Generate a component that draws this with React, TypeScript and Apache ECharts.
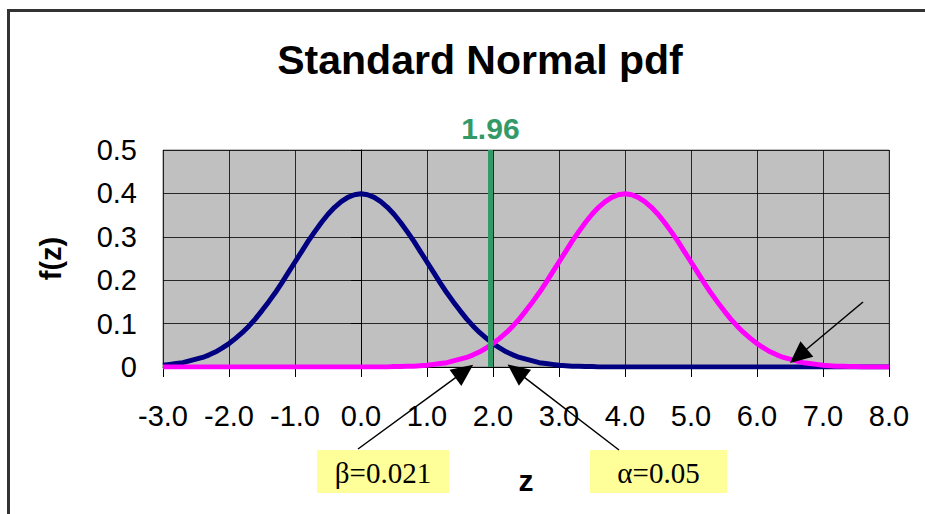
import React, { useEffect, useRef } from "react";
import * as echarts from "echarts";

// x positions (z), step 0.1 from -3.0 to 8.0
const zValues: number[] = [
  -3.0, -2.9, -2.8, -2.7, -2.6, -2.5, -2.4, -2.3, -2.2, -2.1,
  -2.0, -1.9, -1.8, -1.7, -1.6, -1.5, -1.4, -1.3, -1.2, -1.1,
  -1.0, -0.9, -0.8, -0.7, -0.6, -0.5, -0.4, -0.3, -0.2, -0.1,
  0.0, 0.1, 0.2, 0.3, 0.4, 0.5, 0.6, 0.7, 0.8, 0.9,
  1.0, 1.1, 1.2, 1.3, 1.4, 1.5, 1.6, 1.7, 1.8, 1.9,
  2.0, 2.1, 2.2, 2.3, 2.4, 2.5, 2.6, 2.7, 2.8, 2.9,
  3.0, 3.1, 3.2, 3.3, 3.4, 3.5, 3.6, 3.7, 3.8, 3.9,
  4.0, 4.1, 4.2, 4.3, 4.4, 4.5, 4.6, 4.7, 4.8, 4.9,
  5.0, 5.1, 5.2, 5.3, 5.4, 5.5, 5.6, 5.7, 5.8, 5.9,
  6.0, 6.1, 6.2, 6.3, 6.4, 6.5, 6.6, 6.7, 6.8, 6.9,
  7.0, 7.1, 7.2, 7.3, 7.4, 7.5, 7.6, 7.7, 7.8, 7.9,
  8.0,
];

// f(z) under H0 (mean 0), navy curve
const navyValues: number[] = [
  0.004, 0.006, 0.008, 0.010, 0.014, 0.018, 0.022, 0.028, 0.035, 0.044,
  0.054, 0.066, 0.079, 0.094, 0.111, 0.130, 0.150, 0.171, 0.194, 0.218,
  0.242, 0.266, 0.290, 0.312, 0.333, 0.352, 0.368, 0.381, 0.391, 0.397,
  0.399, 0.397, 0.391, 0.381, 0.368, 0.352, 0.333, 0.312, 0.290, 0.266,
  0.242, 0.218, 0.194, 0.171, 0.150, 0.130, 0.111, 0.094, 0.079, 0.066,
  0.054, 0.044, 0.035, 0.028, 0.022, 0.018, 0.014, 0.010, 0.008, 0.006,
  0.004, 0.003, 0.002, 0.002, 0.001, 0.001, 0, 0, 0, 0,
  0, 0, 0, 0, 0, 0, 0, 0, 0, 0,
  0, 0, 0, 0, 0, 0, 0, 0, 0, 0,
  0, 0, 0, 0, 0, 0, 0, 0, 0, 0,
  0, 0, 0, 0, 0, 0, 0, 0, 0, 0,
  0,
];

// f(z) under H1 (mean 4), magenta curve
const magentaValues: number[] = [
  0, 0, 0, 0, 0, 0, 0, 0, 0, 0,
  0, 0, 0, 0, 0, 0, 0, 0, 0, 0,
  0, 0, 0, 0, 0, 0, 0, 0, 0, 0,
  0, 0, 0, 0, 0, 0.001, 0.001, 0.002, 0.002, 0.003,
  0.004, 0.006, 0.008, 0.010, 0.014, 0.018, 0.022, 0.028, 0.035, 0.044,
  0.054, 0.066, 0.079, 0.094, 0.111, 0.130, 0.150, 0.171, 0.194, 0.218,
  0.242, 0.266, 0.290, 0.312, 0.333, 0.352, 0.368, 0.381, 0.391, 0.397,
  0.399, 0.397, 0.391, 0.381, 0.368, 0.352, 0.333, 0.312, 0.290, 0.266,
  0.242, 0.218, 0.194, 0.171, 0.150, 0.130, 0.111, 0.094, 0.079, 0.066,
  0.054, 0.044, 0.035, 0.028, 0.022, 0.018, 0.014, 0.010, 0.008, 0.006,
  0.004, 0.003, 0.002, 0.002, 0.001, 0.001, 0, 0, 0, 0,
  0,
];

const criticalValue = 1.96;
const criticalLabel = "1.96";

// annotation labels and the data points their arrows point to
const annotationTexts: string[] = ["β=0.021", "α=0.05"];
const annotationTips: number[][] = [
  [1.7, 0.005],
  [2.22, 0.006],
];
const extraArrowTip: number[] = [6.5, 0.009];

const FONT = "'Liberation Sans', Arial, sans-serif";
const SERIF = "'Liberation Serif', 'Times New Roman', serif";

function arrowHead(tip: number[], tail: number[], len: number, half: number) {
  const dx = tip[0] - tail[0];
  const dy = tip[1] - tail[1];
  const d = Math.sqrt(dx * dx + dy * dy);
  const ux = dx / d;
  const uy = dy / d;
  const bx = tip[0] - ux * len;
  const by = tip[1] - uy * len;
  return [
    [tip[0], tip[1]],
    [bx - uy * half, by + ux * half],
    [bx + uy * half, by - ux * half],
  ];
}

export default function App() {
  const ref = useRef<HTMLDivElement>(null);

  useEffect(() => {
    document.body.style.margin = "0";
    if (!ref.current) return;
    const chart = echarts.init(ref.current, undefined, { renderer: "svg" });

    const navyData = zValues.map((z, i) => [z, navyValues[i]]);
    const magentaData = zValues.map((z, i) => [z, magentaValues[i]]);

    const option: any = {
      animation: false,
      backgroundColor: "#ffffff",
      title: {
        text: "Standard Normal pdf",
        left: 475,
        top: 34,
        textAlign: "center",
        textStyle: {
          fontFamily: FONT,
          fontWeight: "bold",
          fontSize: 41,
          color: "#000000",
        },
      },
      grid: {
        left: 163,
        top: 150,
        width: 726,
        height: 217,
        show: true,
        backgroundColor: "#c0c0c0",
        borderColor: "#808080",
        borderWidth: 1,
      },
      xAxis: {
        type: "value",
        min: -3,
        max: 8,
        interval: 1,
        name: "z",
        nameLocation: "middle",
        nameGap: 98,
        nameTextStyle: {
          fontFamily: FONT,
          fontWeight: "bold",
          fontSize: 30,
          color: "#000",
        },
        axisLine: { show: true, onZero: false, lineStyle: { color: "#000", width: 1 } },
        axisTick: { show: true, length: 10, lineStyle: { color: "#000", width: 1 } },
        axisLabel: {
          fontFamily: FONT,
          fontSize: 29,
          color: "#000",
          margin: 34,
          formatter: (v: number) => v.toFixed(1),
        },
        splitLine: { show: true, lineStyle: { color: "#000", width: 1, opacity: 0.8 } },
      },
      yAxis: {
        type: "value",
        min: 0,
        max: 0.5,
        interval: 0.1,
        name: "f(z)",
        nameLocation: "middle",
        nameGap: 98,
        nameRotate: 90,
        nameTextStyle: {
          fontFamily: FONT,
          fontWeight: "bold",
          fontSize: 29,
          color: "#000",
        },
        axisLine: { show: true, lineStyle: { color: "#000", width: 1 } },
        axisTick: { show: true, length: 10, lineStyle: { color: "#000", width: 1 } },
        axisLabel: {
          fontFamily: FONT,
          fontSize: 29,
          color: "#000",
          margin: 26,
          formatter: (v: number) => (v === 0 ? "0" : v.toFixed(1)),
        },
        splitLine: { show: true, lineStyle: { color: "#000", width: 1, opacity: 0.8 } },
      },
      series: [
        {
          name: "H0",
          type: "line",
          data: navyData,
          showSymbol: false,
          symbol: "none",
          lineStyle: { color: "#000080", width: 5 },
          z: 2,
        },
        {
          name: "H1",
          type: "line",
          data: magentaData,
          showSymbol: false,
          symbol: "none",
          lineStyle: { color: "#ff00ff", width: 5 },
          z: 3,
          markLine: {
            silent: true,
            symbol: ["none", "none"],
            lineStyle: { color: "#339966", width: 5, type: "solid" },
            label: {
              show: true,
              position: "end",
              formatter: criticalLabel,
              fontFamily: FONT,
              fontWeight: "bold",
              fontSize: 30,
              color: "#339966",
              distance: 7,
            },
            data: [{ xAxis: criticalValue }],
          },
        },
      ],
    };

    chart.setOption(option);

    // annotation graphics: frame, yellow boxes, arrows
    const boxes = [
      { x: 317, y: 450, w: 132, h: 43, tail: [358, 449] },
      { x: 590, y: 450, w: 137, h: 43, tail: [619, 450] },
    ];
    const graphics: any[] = [
      {
        type: "polyline",
        shape: { points: [[8.5, 514], [8.5, 10.5], [925, 10.5]] },
        style: { stroke: "#333333", lineWidth: 3, fill: "none" },
        z: 100,
      },
    ];
    const arrows: { tip: number[]; tail: number[] }[] = [];
    annotationTexts.forEach((t, i) => {
      const b = boxes[i];
      graphics.push({
        type: "rect",
        shape: { x: b.x, y: b.y, width: b.w, height: b.h },
        style: { fill: "#ffff99" },
        z: 100,
      });
      graphics.push({
        type: "text",
        x: b.x + b.w / 2,
        y: b.y + b.h / 2 + 1,
        style: {
          text: t,
          fontFamily: SERIF,
          fontSize: 29,
          fill: "#000",
          align: "center",
          verticalAlign: "middle",
        },
        z: 101,
      });
      const tip = chart.convertToPixel({ gridIndex: 0 }, annotationTips[i]) as number[];
      arrows.push({ tip, tail: b.tail });
    });
    const tip3 = chart.convertToPixel({ gridIndex: 0 }, extraArrowTip) as number[];
    arrows.push({ tip: tip3, tail: [863, 302] });

    arrows.forEach((a) => {
      const head = arrowHead(a.tip, a.tail, 22, 10);
      const dx = a.tip[0] - a.tail[0];
      const dy = a.tip[1] - a.tail[1];
      const d = Math.sqrt(dx * dx + dy * dy);
      const end = [a.tip[0] - (dx / d) * 18, a.tip[1] - (dy / d) * 18];
      graphics.push({
        type: "line",
        shape: { x1: a.tail[0], y1: a.tail[1], x2: end[0], y2: end[1] },
        style: { stroke: "#000", lineWidth: 1.5 },
        z: 110,
      });
      graphics.push({
        type: "polygon",
        shape: { points: head },
        style: { fill: "#000" },
        z: 110,
      });
    });

    chart.setOption({ graphic: graphics });

    return () => {
      chart.dispose();
    };
  }, []);

  return (
    <div
      ref={ref}
      style={{ position: "absolute", left: 0, top: 0, width: 925, height: 514 }}
    />
  );
}
